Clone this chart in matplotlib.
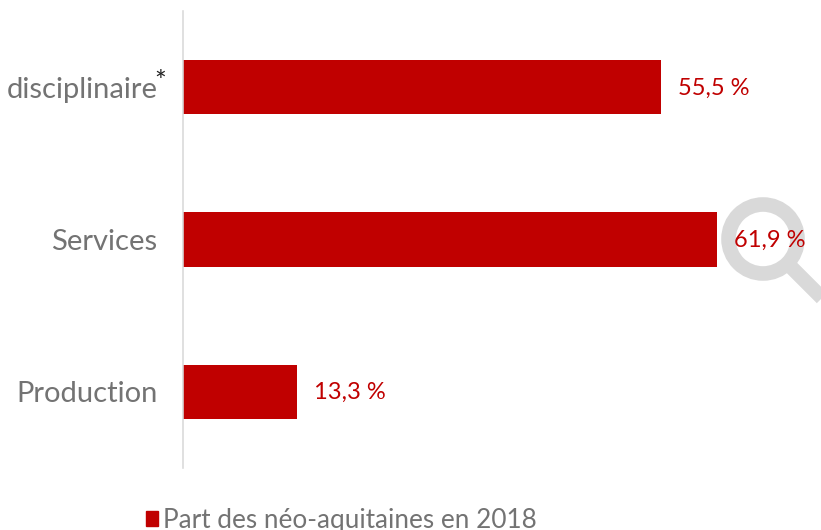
import matplotlib
matplotlib.use('Agg')
import matplotlib.pyplot as plt
from matplotlib.patches import Circle, Rectangle
from matplotlib.lines import Line2D

categories = ['Production', 'Services', 'disciplinaire']
values = [13.3, 61.9, 55.5]
value_labels = ['13,3 %', '61,9 %', '55,5 %']
legend_label = 'Part des néo-aquitaines en 2018'

RED = '#C00000'
GREY = '#737373'

plt.rcParams['font.family'] = ['Lato', 'DejaVu Sans']

fig = plt.figure(figsize=(8.21, 5.30), dpi=100)

# magnifier behind everything, in pixel coords
bg = fig.add_axes([0, 0, 1, 1], zorder=0)
bg.set_xlim(0, 821)
bg.set_ylim(530, 0)
bg.axis('off')
bg.add_patch(Circle((763, 239), 34.5, fill=False, ec='#D9D9D9', lw=10.5))
bg.add_line(Line2D([790, 830], [266, 306], color='#D9D9D9', lw=10.5, solid_capstyle='butt'))

ax = fig.add_axes([182.5 / 821, (530 - 468) / 530, (821 - 182.5) / 821, 457 / 530], zorder=1)
ax.patch.set_visible(False)
ax.set_xlim(0, (821 - 182.5) / 8.63)
ax.set_ylim(-0.5, 2.5)

ax.barh(categories, values, height=0.355, color=RED)

for i, v in enumerate(values):
    ax.annotate(value_labels[i], (v, i), xytext=(17, -1), textcoords='offset pixels',
                va='center', ha='left', color=RED, fontsize=17)

for s in ['top', 'right', 'bottom']:
    ax.spines[s].set_visible(False)
ax.spines['left'].set_color('#D9D9D9')
ax.spines['left'].set_linewidth(1.15)
ax.set_xticks([])
ax.tick_params(axis='y', length=0, pad=18, labelcolor=GREY, labelsize=21)

# asterisk after the top label
ax.annotate('*', (0, 2), xytext=(-22, 4), textcoords='offset pixels', ha='center', va='center',
            fontsize=20, color='#222222')

handle = Rectangle((0, 0), 1, 1, color=RED)
leg = fig.legend([handle], [legend_label], loc='lower left', bbox_to_anchor=(146 / 821, -3 / 530),
                 frameon=False, handlelength=0.46, handleheight=0.5, handletextpad=0.2,
                 borderpad=0, borderaxespad=0, prop={'size': 18.8})
leg.get_texts()[0].set_color(GREY)

fig.savefig('out.png', dpi=100)
